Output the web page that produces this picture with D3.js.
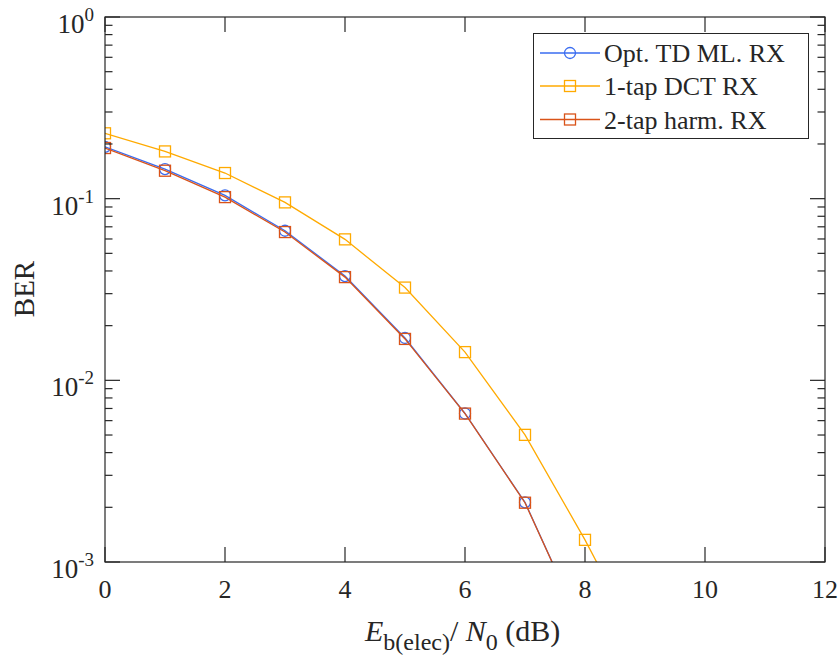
<!DOCTYPE html>
<html>
<head>
<meta charset="utf-8">
<script src="https://cdn.jsdelivr.net/npm/d3@7"></script>
<style>
  html, body { margin: 0; padding: 0; background: #fff; }
  svg text { font-family: "Liberation Serif", "Times New Roman", Times, "DejaVu Serif", serif; fill: #262626; }
</style>
</head>
<body>
<svg id="chart" width="840" height="657"></svg>
<script>
// ---- data ----
const snrOpt = [0, 1, 2, 3, 4, 5, 6, 7, 8];
const berOpt = [0.193, 0.1455, 0.1043, 0.0666, 0.0375, 0.0171, 0.00657, 0.00213, 0.0004];
const snrDct = [0, 1, 2, 3, 4, 5, 6, 7, 8, 9];
const berDct = [0.229, 0.182, 0.1384, 0.0954, 0.0597, 0.0324, 0.0143, 0.00501, 0.001324, 0.00031];
const snrHarm = [0, 1, 2, 3, 4, 5, 6, 7, 8];
const berHarm = [0.190, 0.1425, 0.102, 0.0655, 0.0370, 0.0169, 0.00656, 0.00212, 0.0004];
const seriesNames = ["Opt. TD ML. RX", "1-tap DCT RX", "2-tap harm. RX"];
const xTicks = [0, 2, 4, 6, 8, 10, 12];
const yTickExps = [0, -1, -2, -3];

// ---- layout ----
const L = 105, R = 825, T = 17, B = 562;
const FONT = '"Liberation Serif", "Times New Roman", Times, serif';
const svg = d3.select("#chart");
const x = d3.scaleLinear().domain([0, 12]).range([L, R]);
const y = d3.scaleLog().domain([1e-3, 1]).range([B, T]);
const axisColor = "#262626";

const series = [
  { name: seriesNames[0], xs: snrOpt, ys: berOpt, color: "#3a6cf0", marker: "circle" },
  { name: seriesNames[1], xs: snrDct, ys: berDct, color: "#ffaa00", marker: "square" },
  { name: seriesNames[2], xs: snrHarm, ys: berHarm, color: "#d95319", marker: "square" }
];

svg.append("defs").append("clipPath").attr("id", "clip")
  .append("rect").attr("x", L).attr("y", T).attr("width", R - L).attr("height", B - T);

const plot = svg.append("g").attr("clip-path", "url(#clip)");
const line = d3.line().x(d => x(d[0])).y(d => y(d[1]));

series.forEach(s => {
  const pts = s.xs.map((v, i) => [v, s.ys[i]]);
  plot.append("path").datum(pts).attr("d", line)
    .attr("fill", "none").attr("stroke", s.color).attr("stroke-width", 1.3);
  const g = plot.append("g");
  pts.forEach(p => {
    if (s.marker === "circle") {
      g.append("circle").attr("cx", x(p[0])).attr("cy", y(p[1])).attr("r", 5.5)
        .attr("fill", "none").attr("stroke", s.color).attr("stroke-width", 1.3);
    } else {
      g.append("rect").attr("x", x(p[0]) - 5.5).attr("y", y(p[1]) - 5.5)
        .attr("width", 11).attr("height", 11)
        .attr("fill", "none").attr("stroke", s.color).attr("stroke-width", 1.3);
    }
  });
});

// ---- axes frame and ticks ----
const ax = svg.append("g").attr("stroke", axisColor).attr("stroke-width", 1.2);
ax.append("rect").attr("x", L).attr("y", T).attr("width", R - L).attr("height", B - T)
  .attr("fill", "none");

const majorLen = 15, minorLen = 7.5;
xTicks.forEach(t => {
  const xx = x(t);
  ax.append("line").attr("x1", xx).attr("x2", xx).attr("y1", B).attr("y2", B - majorLen);
  ax.append("line").attr("x1", xx).attr("x2", xx).attr("y1", T).attr("y2", T + majorLen);
});
y.ticks().forEach(t => {
  const yy = y(t);
  const isMajor = Math.abs(Math.log10(t) - Math.round(Math.log10(t))) < 1e-9;
  const len = isMajor ? majorLen : minorLen;
  ax.append("line").attr("x1", L).attr("x2", L + len).attr("y1", yy).attr("y2", yy);
  ax.append("line").attr("x1", R).attr("x2", R - len).attr("y1", yy).attr("y2", yy);
});

// x tick labels
svg.append("g").selectAll("text").data(xTicks).join("text")
  .attr("font-family", FONT)
  .attr("x", d => x(d)).attr("y", 598)
  .attr("text-anchor", "middle").attr("font-size", 26)
  .text(d => d);

// y tick labels
const yl = svg.append("g");
yTickExps.forEach(e => {
  const yy = y(Math.pow(10, e));
  const t = yl.append("text").attr("font-family", FONT).attr("x", 94).attr("y", yy + 16)
    .attr("text-anchor", "end").attr("font-size", 27);
  t.append("tspan").text("10");
  t.append("tspan").attr("font-size", 19).attr("dy", -12).text(String(e));
});

// axis labels
const xl = svg.append("text").attr("font-family", FONT).attr("x", 365).attr("y", 641).attr("font-size", 30);
xl.append("tspan").attr("font-style", "italic").text("E");
xl.append("tspan").attr("font-size", 24).attr("dy", 9).text("b(elec)");
xl.append("tspan").attr("dy", -9).text("/ ");
xl.append("tspan").attr("font-style", "italic").text("N");
xl.append("tspan").attr("font-size", 24).attr("dy", 9).text("0");
xl.append("tspan").attr("dy", -9).text(" (dB)");

svg.append("text").attr("font-family", FONT).attr("transform", "translate(34,289) rotate(-90)")
  .attr("text-anchor", "middle").attr("font-size", 29).text("BER");

// ---- legend ----
const lg = svg.append("g");
lg.append("rect").attr("x", 533.5).attr("y", 33.5).attr("width", 275).attr("height", 105)
  .attr("fill", "#fff").attr("stroke", axisColor).attr("stroke-width", 1);
const rowY = [53, 86, 119.5];
series.forEach((s, i) => {
  const yy = rowY[i];
  lg.append("line").attr("x1", 540).attr("x2", 600).attr("y1", yy).attr("y2", yy)
    .attr("stroke", s.color).attr("stroke-width", 1.3);
  if (s.marker === "circle") {
    lg.append("circle").attr("cx", 570).attr("cy", yy).attr("r", 5.5)
      .attr("fill", "none").attr("stroke", s.color).attr("stroke-width", 1.3);
  } else {
    lg.append("rect").attr("x", 564.5).attr("y", yy - 5.5).attr("width", 11).attr("height", 11)
      .attr("fill", "none").attr("stroke", s.color).attr("stroke-width", 1.3);
  }
  lg.append("text").attr("font-family", FONT).attr("x", 604).attr("y", yy + 9)
    .attr("font-size", 26).text(s.name);
});
</script>
</body>
</html>
